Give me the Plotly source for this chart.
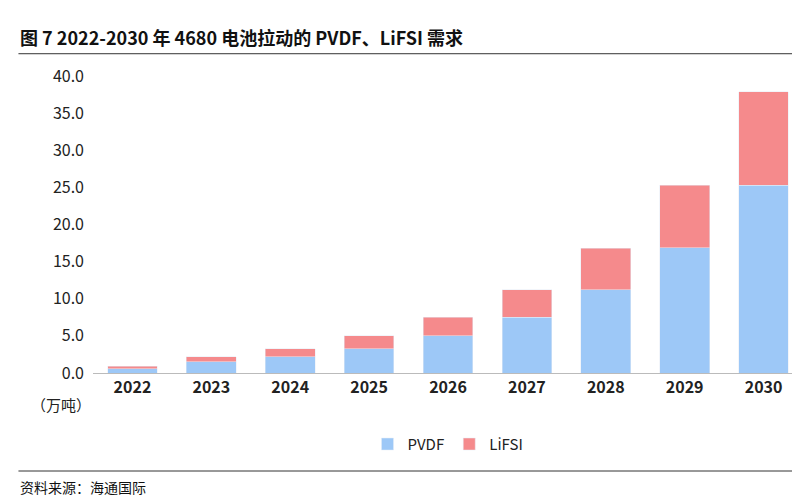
import plotly.graph_objects as go

years = ["2022","2023","2024","2025","2026","2027","2028","2029","2030"]
pvdf = [0.6,1.5,2.2,3.3,5.0,7.5,11.2,16.9,25.3]
lifsi = [0.3,0.7,1.1,1.7,2.5,3.7,5.6,8.4,12.6]
yticks = [0,5,10,15,20,25,30,35,40]

c1, c2 = "#9DC8F7", "#F58A8C"
FONT = "Noto Sans CJK SC"
fig = go.Figure()
fig.add_bar(x=years, y=pvdf, name="PVDF", marker_color=c1, width=0.63)
fig.add_bar(x=years, y=lifsi, name="LiFSI", marker_color=c2, width=0.63)

# label positions (in data coords)
lx, ly, lt = [], [], []
for i, (a, b) in enumerate(zip(pvdf, lifsi)):
    if i == 0:
        continue
    lx.append(i); ly.append(a/2); lt.append(f"{a:.1f}")
    lx.append(i); ly.append(a+b+2.9 if i == 1 else a+b/2); lt.append(f"{b:.1f}")
# 2022 callouts
lx += [-0.28, 0.03]; ly += [4.0, 6.1]; lt += [f"{pvdf[0]:.1f}", f"{lifsi[0]:.1f}"]
fig.add_scatter(x=[-0.05, -0.2, None, 0.02, -0.03], y=[pvdf[0]/2, 3.0, None, pvdf[0]+lifsi[0]/2, 5.2],
                mode="lines", line=dict(color="#999", width=1), showlegend=False, hoverinfo="skip")
fig.add_scatter(x=lx, y=ly, text=lt, mode="text", textfont=dict(family=FONT, size=16, color="#222"),
                showlegend=False, hoverinfo="skip")

fig.update_layout(
    width=800, height=500, barmode="stack", plot_bgcolor="white", paper_bgcolor="white",
    margin=dict(l=85, r=5, t=68, b=135, autoexpand=False),
    font=dict(family=FONT, size=15, color="#222"),
    legend=dict(orientation="h", x=0.5, xanchor="center", y=-0.24, yanchor="middle",
                font=dict(size=15), traceorder="normal"),
    shapes=[
        dict(type="line", xref="paper", yref="paper", x0=-0.105, x1=1.0, y0=1.075, y1=1.075,
             line=dict(color="#333", width=1)),
        dict(type="line", xref="paper", yref="paper", x0=-0.105, x1=1.0, y0=-0.33, y1=-0.33,
             line=dict(color="#333", width=1)),
    ],
)
fig.add_annotation(xref="paper", yref="paper", x=-0.105, y=1.13, xanchor="left", yanchor="middle",
                   text="<b>图 7 2022-2030 年 4680 电池拉动的 PVDF、LiFSI 需求</b>", showarrow=False,
                   font=dict(family=FONT, size=18, color="#111"))
fig.add_annotation(xref="paper", yref="paper", x=-0.09, y=-0.105, xanchor="left", yanchor="middle",
                   text="（万吨）", showarrow=False, font=dict(family=FONT, size=15, color="#222"))
fig.add_annotation(xref="paper", yref="paper", x=-0.105, y=-0.385, xanchor="left", yanchor="middle",
                   text="资料来源：海通国际", showarrow=False,
                   font=dict(family=FONT, size=14, color="#111"))
fig.update_xaxes(showline=True, linecolor="#bbb", tickfont=dict(size=16, color="#222"),
                 ticks="", range=[-0.5, 8.5], tickvals=list(range(len(years))) if False else None,
                 ticktext=None)
fig.update_xaxes(tickmode="array", tickvals=years, ticktext=[f"<b>{y}</b>" for y in years])
fig.update_yaxes(range=[0, 40], tickvals=yticks, ticktext=[f"{v:.1f}" for v in yticks],
                 showgrid=False, zeroline=False, ticklabelstandoff=8, tickfont=dict(size=16))
fig.write_html("out.html")
